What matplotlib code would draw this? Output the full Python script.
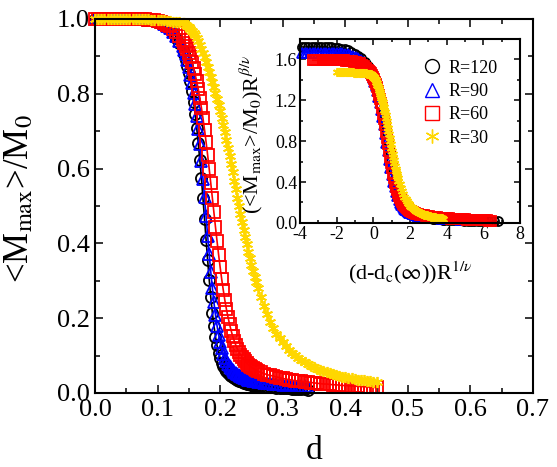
"""Largest-cluster order parameter <M_max>/M_0 vs d, with finite-size scaling collapse inset."""

import matplotlib

matplotlib.use("Agg")

import matplotlib.pyplot as plt  # noqa: E402
import numpy as np  # noqa: E402
from matplotlib.lines import Line2D  # noqa: E402
from matplotlib.ticker import MultipleLocator  # noqa: E402

# ---- data -----------------------------------------------------------------------------
d_grid = [
    0.000, 0.005, 0.010, 0.015, 0.020, 0.025, 0.030, 0.035, 0.040, 0.045,
    0.050, 0.055, 0.060, 0.065, 0.070, 0.075, 0.080, 0.085, 0.090, 0.095,
    0.100, 0.105, 0.110, 0.115, 0.120, 0.125, 0.130, 0.135, 0.140,
    0.1425, 0.1450, 0.1475, 0.1500, 0.1525, 0.1550, 0.1575, 0.1600, 0.1625, 0.1650,
    0.1675, 0.1700, 0.1725, 0.1750, 0.1775, 0.1800, 0.1825, 0.1850, 0.1875, 0.1900,
    0.1925, 0.1950, 0.1975, 0.2000, 0.2025, 0.2050, 0.2075, 0.2100, 0.2125, 0.2150,
    0.2175, 0.2200, 0.2225, 0.2250, 0.2275, 0.2300, 0.2325, 0.2350, 0.2375, 0.2400,
    0.2425, 0.2450, 0.2475, 0.2500, 0.2525, 0.2550, 0.2575, 0.2600,
    0.265, 0.270, 0.275, 0.280, 0.285, 0.290, 0.295, 0.300, 0.305, 0.310,
    0.315, 0.320, 0.325, 0.330, 0.335, 0.340,
    0.345, 0.350, 0.355, 0.360, 0.365, 0.370, 0.375, 0.380, 0.385, 0.390,
    0.395, 0.400, 0.405, 0.410, 0.415, 0.420, 0.425, 0.430, 0.435, 0.440,
    0.445, 0.450,
]

m_r120 = [
    1.000, 1.000, 1.000, 1.000, 1.000, 1.000, 1.000, 1.000, 1.000, 1.000,
    1.000, 1.000, 1.000, 1.000, 1.000, 1.000, 0.999, 0.998, 0.997, 0.995,
    0.993, 0.990, 0.986, 0.980, 0.972, 0.962, 0.950, 0.935, 0.917,
    0.905, 0.891, 0.874, 0.855, 0.833, 0.808, 0.779, 0.746, 0.709, 0.668,
    0.623, 0.574, 0.521, 0.466, 0.410, 0.355, 0.303, 0.256, 0.215, 0.180,
    0.151, 0.127, 0.108, 0.093, 0.081, 0.072, 0.064, 0.058, 0.053, 0.049,
    0.045, 0.042, 0.039, 0.037, 0.035, 0.033, 0.031, 0.029, 0.028, 0.027,
    0.025, 0.024, 0.023, 0.022, 0.021, 0.020, 0.019, 0.019,
    0.018, 0.017, 0.016, 0.015, 0.015, 0.014, 0.013, 0.013, 0.012, 0.012,
    0.011, 0.011, 0.010, 0.010, 0.010, 0.009,
]

m_r90 = [
    1.000, 1.000, 1.000, 1.000, 1.000, 1.000, 1.000, 1.000, 1.000, 1.000,
    1.000, 1.000, 1.000, 1.000, 1.000, 1.000, 0.999, 0.998, 0.997, 0.996,
    0.994, 0.991, 0.987, 0.982, 0.975, 0.966, 0.955, 0.942, 0.927,
    0.918, 0.905, 0.889, 0.871, 0.851, 0.828, 0.802, 0.773, 0.741, 0.705,
    0.665, 0.621, 0.573, 0.523, 0.472, 0.421, 0.371, 0.324, 0.281, 0.243,
    0.209, 0.180, 0.156, 0.136, 0.119, 0.105, 0.094, 0.085, 0.077, 0.071,
    0.066, 0.061, 0.057, 0.053, 0.050, 0.047, 0.045, 0.043, 0.041, 0.039,
    0.037, 0.036, 0.035, 0.034, 0.033, 0.032, 0.031, 0.030,
    0.029, 0.028, 0.027, 0.026, 0.025, 0.024, 0.023, 0.022, 0.021, 0.021,
    0.020, 0.019, 0.019, 0.018, 0.018, 0.017,
]

m_r60 = [
    1.000, 1.000, 1.000, 1.000, 1.000, 1.000, 1.000, 1.000, 1.000, 1.000,
    1.000, 1.000, 1.000, 1.000, 1.000, 1.000, 0.999, 0.998, 0.997, 0.996,
    0.994, 0.992, 0.989, 0.985, 0.980, 0.973, 0.965, 0.955, 0.943,
    0.936, 0.928, 0.919, 0.909, 0.897, 0.884, 0.869, 0.852, 0.833, 0.812,
    0.789, 0.763, 0.735, 0.704, 0.671, 0.636, 0.599, 0.561, 0.522, 0.483,
    0.444, 0.406, 0.370, 0.336, 0.304, 0.275, 0.248, 0.224, 0.203, 0.184,
    0.167, 0.152, 0.139, 0.128, 0.118, 0.110, 0.102, 0.096, 0.090, 0.085,
    0.080, 0.076, 0.072, 0.069, 0.066, 0.063, 0.061, 0.058,
    0.055, 0.052, 0.049, 0.047, 0.045, 0.043, 0.041, 0.039, 0.037, 0.036,
    0.034, 0.033, 0.032, 0.031, 0.030, 0.029,
    0.028, 0.027, 0.026, 0.025, 0.024, 0.024, 0.023, 0.022, 0.022, 0.021,
    0.020, 0.020, 0.019, 0.019, 0.018, 0.018, 0.017, 0.017, 0.016, 0.016,
    0.015, 0.015,
]

m_r30 = [
    1.000, 1.000, 1.000, 1.000, 1.000, 1.000, 1.000, 1.000, 1.000, 1.000,
    1.000, 1.000, 1.000, 1.000, 0.999, 0.999, 0.999, 0.999, 0.998, 0.998,
    0.998, 0.997, 0.996, 0.995, 0.994, 0.993, 0.992, 0.991, 0.990,
    0.988, 0.985, 0.982, 0.978, 0.973, 0.968, 0.962, 0.956, 0.948, 0.940,
    0.930, 0.920, 0.909, 0.897, 0.885, 0.872, 0.859, 0.846, 0.832, 0.818,
    0.803, 0.787, 0.771, 0.754, 0.736, 0.717, 0.697, 0.677, 0.656, 0.634,
    0.612, 0.590, 0.568, 0.545, 0.522, 0.500, 0.478, 0.457, 0.436, 0.416,
    0.397, 0.378, 0.360, 0.343, 0.327, 0.311, 0.296, 0.282,
    0.256, 0.232, 0.210, 0.191, 0.174, 0.159, 0.146, 0.135, 0.125, 0.116,
    0.108, 0.101, 0.094, 0.088, 0.083, 0.078,
    0.073, 0.069, 0.065, 0.062, 0.059, 0.056, 0.053, 0.051, 0.048, 0.046,
    0.044, 0.042, 0.041, 0.039, 0.038, 0.036, 0.035, 0.034, 0.032, 0.031,
    0.030, 0.029,
]

sizes = [120, 90, 60, 30]
series = [m_r120, m_r90, m_r60, m_r30]
labels = ["R=120", "R=90", "R=60", "R=30"]
colors = ["black", "#0000FF", "#FF0000", "#FFD700"]
markers = ["o", "^", "s", (6, 2, 0)]

# scaling-collapse parameters used for the inset
dc_inf = 0.153
inv_nu = 0.75
beta_nu = 0.113

plt.rcParams["font.family"] = ["Liberation Serif", "DejaVu Serif"]
plt.rcParams["mathtext.fontset"] = "stix"
plt.rcParams["axes.unicode_minus"] = False


def style_ticks(ax, major_len, minor_len, size):
    ax.tick_params(which="both", direction="in", top=True, right=True, labelsize=size, width=1.1)
    ax.tick_params(which="major", length=major_len)
    ax.tick_params(which="minor", length=minor_len)
    for sp in ax.spines.values():
        sp.set_linewidth(1.5)


fig = plt.figure(figsize=(5.57, 4.67), dpi=100)
ax = fig.add_axes([0.1706, 0.1585, 0.7863, 0.8009])
ins = fig.add_axes([0.5386, 0.5225, 0.395, 0.395])

for R, m, lab, c, mk in zip(sizes, series, labels, colors, markers):
    d = np.asarray(d_grid[: len(m)])
    m = np.asarray(m)
    ax.plot(d, m, color=c, lw=1.2, marker=mk, ms=8, mfc="none", mec=c, mew=1.3, clip_on=False)

    x = (d - dc_inf) * R ** inv_nu
    y = m * R ** beta_nu
    keep = (x >= -4) & (x <= 8)
    ins.plot(x[keep], y[keep], color=c, lw=1.2, marker=mk, ms=6.5, mfc="none", mec=c, mew=1.3,
             clip_on=False)

ax.set_xlim(0, 0.7)
ax.set_ylim(0, 1.0)
ax.xaxis.set_major_locator(MultipleLocator(0.1))
ax.xaxis.set_minor_locator(MultipleLocator(0.05))
ax.yaxis.set_major_locator(MultipleLocator(0.2))
ax.yaxis.set_minor_locator(MultipleLocator(0.1))
ax.xaxis.set_major_formatter(lambda v, p: f"{v:.1f}")
ax.yaxis.set_major_formatter(lambda v, p: f"{v:.1f}")
style_ticks(ax, 6, 3.5, 19)
ax.tick_params(axis="x", pad=4)
ax.set_xlabel("d", fontsize=24)
ax.xaxis.set_label_coords(0.5, -0.115)
ax.set_ylabel("<M$_{\\mathrm{max}}$>/M$_0$", fontsize=25)
ax.yaxis.set_label_coords(-0.135, 0.52)

ins.set_xlim(-4, 8)
ins.set_ylim(0, 1.8)
ins.xaxis.set_major_locator(MultipleLocator(2))
ins.xaxis.set_minor_locator(MultipleLocator(1))
ins.yaxis.set_major_locator(MultipleLocator(0.4))
ins.yaxis.set_minor_locator(MultipleLocator(0.2))
ins.xaxis.set_major_formatter(lambda v, p: f"{v:.0f}")
ins.yaxis.set_major_formatter(lambda v, p: f"{v:.1f}")
style_ticks(ins, 4, 2.5, 13)
ins.tick_params(pad=2)
ins.set_xlabel("(d-d$_{\\mathrm{c}}$($\\infty$))R$^{1/\\nu}$", fontsize=16)
ins.xaxis.set_label_coords(0.5, -0.2)
ins.set_ylabel("(<M$_{\\mathrm{max}}$>/M$_0$)R$^{\\beta/\\nu}$", fontsize=16)
ins.yaxis.set_label_coords(-0.16, 0.48)

handles = [Line2D([], [], ls="none", marker=mk, ms=10, mfc="none", mec=c, mew=1.0)
           for c, mk in zip(colors, markers)]
ins.legend(handles, labels, loc="upper left", bbox_to_anchor=(0.56, 0.885), frameon=False,
           fontsize=13, handlelength=1.0, handletextpad=0.4, labelspacing=0.35,
           borderaxespad=0.0, borderpad=0.0)

fig.savefig("out.png", dpi=100)
